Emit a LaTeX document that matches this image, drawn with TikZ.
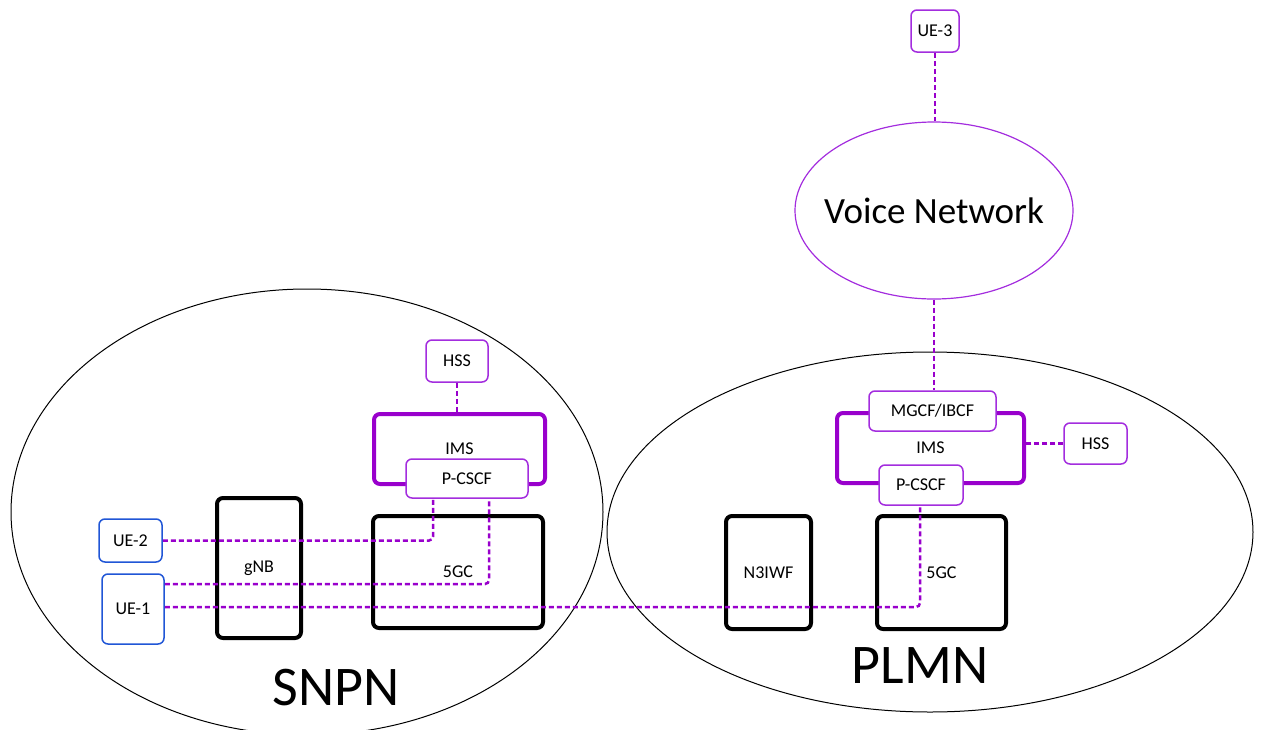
\documentclass[tikz,border=0pt]{standalone}
\usepackage{fontspec}
\setmainfont{Carlito}
\usetikzlibrary{shapes.geometric}

\definecolor{imsviolet}{RGB}{153,0,204}
\definecolor{boxviolet}{RGB}{163,45,222}
\definecolor{uebLue}{RGB}{32,86,214}

\tikzset{
  every node/.style={font=\fontsize{18}{21}\selectfont, inner sep=0pt, align=center},
  elembox/.style={draw=boxviolet, line width=1.5pt, rounded corners=6pt, fill=white},
  uebox/.style={draw=uebLue, line width=1.5pt, rounded corners=6pt, fill=white},
  netbox/.style={draw=black, line width=4pt, rounded corners=6pt},
  imsbox/.style={draw=imsviolet, line width=4pt, rounded corners=6pt},
  link/.style={draw=imsviolet, line width=2.5pt, dash pattern=on 5pt off 3pt, rounded corners=4pt},
  bigtext/.style={font=\fontsize{56}{60}\selectfont},
}

\begin{document}
\begin{tikzpicture}[x=1pt, y=-1pt]
  \useasboundingbox (0,0) rectangle (1262,729);
  \clip (0,0) rectangle (1262,729);

  % the two networks
  \draw[black, line width=1pt] (307,512) ellipse [x radius=296pt, y radius=223pt];
  \draw[black, line width=1pt] (930,532) ellipse [x radius=323pt, y radius=180pt];
  \node[bigtext, anchor=base] (snpnlbl) at (336,705) {SNPN};
  \node[bigtext, anchor=base] (plmnlbl) at (920,683) {PLMN};

  % external voice network and its UE
  \node[ellipse, draw=boxviolet, line width=1.2pt, minimum width=278pt, minimum height=177pt] (vn) at (934,210.5) {};
  \node[font=\fontsize{37}{42}\selectfont] (vnlbl) at (vn.center) {Voice Network};
  \node[elembox, minimum width=48pt, minimum height=42pt] (ue3) at (935,31) {UE-3};

  % SNPN side
  \node[elembox, minimum width=62pt, minimum height=42pt] (hss1) at (457,361) {HSS};
  \node[imsbox, minimum width=171pt, minimum height=70pt] (ims1) at (459.5,449) {IMS};
  \node[elembox, minimum width=122pt, minimum height=39pt] (pcscf1) at (467,478.5) {P-CSCF};
  \node[netbox, minimum width=84pt, minimum height=140pt] (gnb) at (259,568) {gNB};
  \node[netbox, minimum width=170pt, minimum height=112pt] (core1) at (458,572) {5GC};
  \node[uebox, minimum width=63pt, minimum height=43pt] (ue2) at (130.5,540.5) {UE-2};
  \node[uebox, minimum width=62pt, minimum height=70pt] (ue1) at (133,609) {UE-1};

  % PLMN side
  \node[imsbox, minimum width=187pt, minimum height=70pt] (ims2) at (930.5,448) {IMS};
  \node[elembox, minimum width=127pt, minimum height=40pt] (mgcf) at (932.5,411) {MGCF/IBCF};
  \node[elembox, minimum width=84pt, minimum height=40pt] (pcscf2) at (921,485) {P-CSCF};
  \node[elembox, minimum width=63pt, minimum height=41pt] (hss2) at (1095.5,443.5) {HSS};
  \node[netbox, minimum width=85pt, minimum height=113pt] (n3iwf) at (768.5,572.5) {N3IWF};
  \node[netbox, minimum width=129pt, minimum height=113pt] (core2) at (941.5,572.5) {5GC};

  % signalling paths
  \draw[link] (ue3.south) -- (ue3.south |- vn.north);
  \draw[link] (vn.south) -- (vn.south |- mgcf.north);
  \draw[link] (hss1.south) -- (hss1.south |- ims1.north);
  \draw[link] (hss2.west) -- (hss2.west -| ims2.east);
  \draw[link] (ue2.east) -| ([xshift=-34pt]pcscf1.south);
  \draw[link] ([yshift=25pt]ue1.east) -| ([xshift=22pt]pcscf1.south);
  \draw[link] ([yshift=2pt]ue1.east) -| ([xshift=-1pt]pcscf2.south);
\end{tikzpicture}
\end{document}
